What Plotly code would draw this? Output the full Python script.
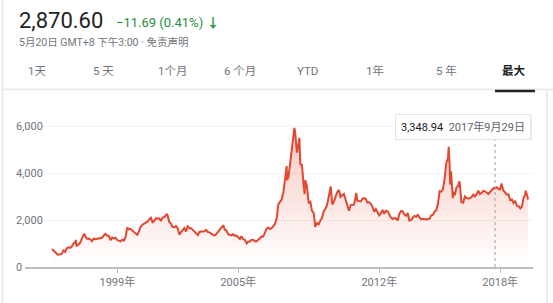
import pandas as pd
import plotly.graph_objects as go

# ---- Shanghai Composite, month-end closes (last business day of month) ----
month_start = "1995-10-01"
closes_1995 = [700, 620, 555]
closes_1996 = [537, 546, 556, 710, 643, 795, 836, 813, 882, 1012, 1040, 917]
closes_1997 = [961, 1036, 1218, 1380, 1310, 1201, 1209, 1175, 1096, 1210, 1179, 1194]
closes_1998 = [1222, 1206, 1243, 1344, 1411, 1339, 1317, 1145, 1250, 1217, 1247, 1147]
closes_1999 = [1134, 1090, 1159, 1120, 1280, 1690, 1601, 1627, 1550, 1494, 1431, 1367]
closes_2000 = [1535, 1715, 1800, 1836, 1895, 1928, 2023, 2097, 1910, 1961, 2071, 2073]
closes_2001 = [2065, 1960, 2113, 2119, 2214, 2219, 1920, 1835, 1698, 1690, 1747, 1646]
closes_2002 = [1371, 1491, 1580, 1656, 1515, 1732, 1653, 1650, 1582, 1507, 1437, 1358]
closes_2003 = [1500, 1511, 1511, 1521, 1576, 1487, 1476, 1422, 1367, 1348, 1397, 1497]
closes_2004 = [1590, 1675, 1742, 1595, 1555, 1400, 1387, 1342, 1396, 1320, 1340, 1267]
closes_2005 = [1191, 1306, 1181, 1159, 1060, 1080, 1083, 1162, 1155, 1092, 1099, 1161]
closes_2006 = [1258, 1299, 1298, 1440, 1641, 1672, 1612, 1658, 1752, 1837, 2099, 2675]
closes_2007 = [2786, 2881, 3183, 3841, 4109, 3820, 4471, 5218, 5552, 5700, 4871, 5262]
closes_2008 = [4383, 4348, 3473, 3693, 3433, 2736, 2775, 2397, 2293, 1729, 1871, 1821]
closes_2009 = [1991, 2082, 2374, 2477, 2633, 2959, 3412, 2668, 2779, 2996, 3195, 3277]
closes_2010 = [2989, 3051, 3110, 2871, 2592, 2398, 2638, 2639, 2656, 2979, 2820, 2808]
closes_2011 = [2791, 2905, 2928, 2911, 2743, 2762, 2701, 2568, 2359, 2468, 2333, 2199]
closes_2012 = [2292, 2428, 2263, 2396, 2373, 2225, 2103, 2047, 2086, 2069, 1980, 2269]
closes_2013 = [2385, 2366, 2237, 2178, 2301, 1979, 1994, 2098, 2175, 2141, 2220, 2116]
closes_2014 = [2033, 2056, 2033, 2026, 2039, 2048, 2202, 2217, 2364, 2420, 2683, 3235]
closes_2015 = [3210, 3310, 3748, 4442, 4612, 4277, 3664, 3206, 3053, 3383, 3445, 3539]
closes_2016 = [2760, 2740, 3004, 2938, 2917, 2930, 2979, 3085, 3005, 3100, 3250, 3104]
closes_2017 = [3159, 3242, 3223, 3155, 3117, 3192, 3273, 3361, 3348.94, 3393, 3317, 3307]
closes_2018 = [3481, 3259, 3169, 3082, 3095, 2847, 2876, 2725, 2821, 2603, 2588, 2494]
closes_2019 = [2585, 2941, 3091, 3078]

# ---- intra-month highs / lows and the latest close ----
extra_dates = [
    "1995-10-05", "1996-01-19", "1996-12-10", "1996-12-24", "1997-05-12",
    "2001-06-14", "2004-04-07", "2005-06-03", "2007-05-29", "2007-06-05",
    "2007-10-16", "2008-01-14", "2008-04-18", "2008-10-28", "2009-08-04",
    "2010-11-08", "2015-06-12", "2015-07-08", "2015-07-24", "2015-08-26",
    "2015-12-22", "2018-01-26", "2019-04-08", "2019-05-20",
]
extra_values = [
    764, 520, 1150, 870, 1420,
    2245, 1780, 1000, 4300, 3700,
    5920, 5500, 3100, 1700, 3430,
    3150, 5120, 3510, 4070, 2930,
    3650, 3560, 3250, 2870.60,
]

# ---- header / tab / axis texts ----
last_price = 2870.60
change, change_pct = -11.69, 0.41
timestamp_text = "5月20日 GMT+8 下午3:00 · 免责声明"
tab_labels = ["1天", "5 天", "1个月", "6 个月", "YTD", "1年", "5 年", "最大"]
x_tick_dates = ["1999-01-01", "2005-01-01", "2012-01-01", "2018-01-01"]
x_tick_text = ["1999年", "2005年", "2012年", "2018年"]
y_tick_vals = [0, 2000, 4000, 6000]
tooltip_date = "2017-09-29"

monthly = (closes_1995 + closes_1996 + closes_1997 + closes_1998 + closes_1999 +
           closes_2000 + closes_2001 + closes_2002 + closes_2003 + closes_2004 +
           closes_2005 + closes_2006 + closes_2007 + closes_2008 + closes_2009 +
           closes_2010 + closes_2011 + closes_2012 + closes_2013 + closes_2014 +
           closes_2015 + closes_2016 + closes_2017 + closes_2018 + closes_2019)
month_dates = pd.date_range(month_start, periods=len(monthly), freq="BME")

series = pd.concat([
    pd.Series(monthly, index=month_dates),
    pd.Series(extra_values, index=pd.to_datetime(extra_dates)),
]).sort_index()
series = series[~series.index.duplicated(keep="last")]

W, H = 553, 303
ML, MR, MT, MB = 25, 20, 112, 36
LINE = "#e2472f"
FONT = "Roboto, 'Noto Sans CJK SC', Arial, sans-serif"


def fx(p):  # pixel column -> paper x
    return (p - ML) / (W - ML - MR)


def fy(p):  # pixel row -> paper y
    return (H - MB - p) / (H - MT - MB)


fig = go.Figure()
fig.add_trace(go.Scatter(
    x=series.index, y=series.values, mode="lines",
    line=dict(color=LINE, width=2),
    fill="tozeroy",
    fillgradient=dict(type="vertical", start=0, stop=6000,
                      colorscale=[[0, "rgba(226,71,47,0)"],
                                  [1, "rgba(226,71,47,0.30)"]]),
    hoverinfo="skip", showlegend=False,
))

annotations = []
# header
annotations.append(dict(text=f"{last_price:,.2f}", x=fx(16.5), y=fy(21),
                        xanchor="left", yanchor="middle", showarrow=False,
                        font=dict(size=22, color="#222222", family=FONT)))
annotations.append(dict(text=f"−{abs(change):.2f} ({change_pct:.2f}%) <b>↓</b>",
                        x=fx(114), y=fy(22), xanchor="left", yanchor="middle",
                        showarrow=False,
                        font=dict(size=13, color="#1e8e3e", family=FONT)))
annotations.append(dict(text=timestamp_text, x=fx(17), y=fy(42),
                        xanchor="left", yanchor="middle", showarrow=False,
                        font=dict(size=10.5, color="#70757a", family=FONT)))
# range tabs
tab_centers = [37, 103, 172, 240, 307, 375, 446, 514]
for label, cx in zip(tab_labels, tab_centers):
    selected = label == tab_labels[-1]
    annotations.append(dict(
        text=f"<b>{label}</b>" if selected else label,
        x=fx(cx), y=fy(71), xanchor="center", yanchor="middle",
        showarrow=False,
        font=dict(size=11.5, color="#202124" if selected else "#70757a",
                  family=FONT)))

# hover tooltip for the highlighted day
tip_ts = pd.Timestamp(tooltip_date)
tip_value = float(series[tip_ts])
tip_text = (f"<span style='color:#222'>{tip_value:,.2f}</span>"
            f"  <span style='color:#5f6368'>{tip_ts.year}年{tip_ts.month}月{tip_ts.day}日</span>")
annotations.append(dict(text=tip_text, x=tip_ts, xref="x", y=fy(126.5), yref="paper",
                        xanchor="right", yanchor="middle", xshift=36,
                        showarrow=False, bgcolor="white",
                        bordercolor="#e4e4e4", borderwidth=1, borderpad=5,
                        font=dict(size=11, family=FONT)))
for a in annotations:
    a.setdefault("xref", "paper")
    a.setdefault("yref", "paper")

shapes = [
    # soft shadow under the tooltip card
    dict(type="rect", xref="x", yref="paper", xsizemode="pixel", ysizemode="pixel",
         xanchor=tip_ts, yanchor=fy(126.5), x0=-95, x1=37, y0=-13.5, y1=10,
         fillcolor="rgba(0,0,0,0.07)", line=dict(width=0)),
    # dotted crosshair
    dict(type="line", xref="x", yref="paper", x0=tip_ts, x1=tip_ts,
         y0=0, y1=fy(138), line=dict(color="#9aa0a6", width=1, dash="dot")),
    # tab bar separator and selected-tab underline
    dict(type="line", xref="paper", yref="paper", x0=fx(3), x1=fx(553),
         y0=fy(89.5), y1=fy(89.5), line=dict(color="#ebebeb", width=2)),
    dict(type="line", xref="paper", yref="paper", x0=fx(495), x1=fx(535),
         y0=fy(91), y1=fy(91), line=dict(color="#202124", width=2.5)),
    # card borders
    dict(type="line", xref="paper", yref="paper", x0=fx(2.5), x1=fx(2.5),
         y0=fy(0), y1=fy(303), line=dict(color="#e6e6e6", width=1.5)),
    dict(type="line", xref="paper", yref="paper", x0=fx(547), x1=fx(547),
         y0=fy(90), y1=fy(303), line=dict(color="#e6e6e6", width=1.5)),
]

fig.update_layout(
    width=W, height=H, margin=dict(l=ML, r=MR, t=MT, b=MB, pad=0),
    paper_bgcolor="white", plot_bgcolor="white",
    font=dict(family=FONT, size=11, color="#70757a"),
    annotations=annotations, shapes=shapes, hovermode=False,
    xaxis=dict(range=["1994-06-03", "2019-08-18"], tickvals=x_tick_dates,
               ticktext=x_tick_text, ticks="outside", ticklen=4,
               tickcolor="#bdbdbd", showline=True, linecolor="#bdbdbd",
               linewidth=1.5, showgrid=False, zeroline=False,
               tickfont=dict(size=11, color="#70757a")),
    yaxis=dict(range=[0, 6600], tickvals=y_tick_vals,
               ticktext=[f"{v:,}" for v in y_tick_vals],
               ticklabelposition="inside", ticklabelstandoff=-12,
               ticklabeloverflow="allow", showgrid=True, gridcolor="#f2f2f2",
               zeroline=False, showline=False, ticks="",
               tickfont=dict(size=11, color="#70757a")),
)

fig.write_html("out.html")
